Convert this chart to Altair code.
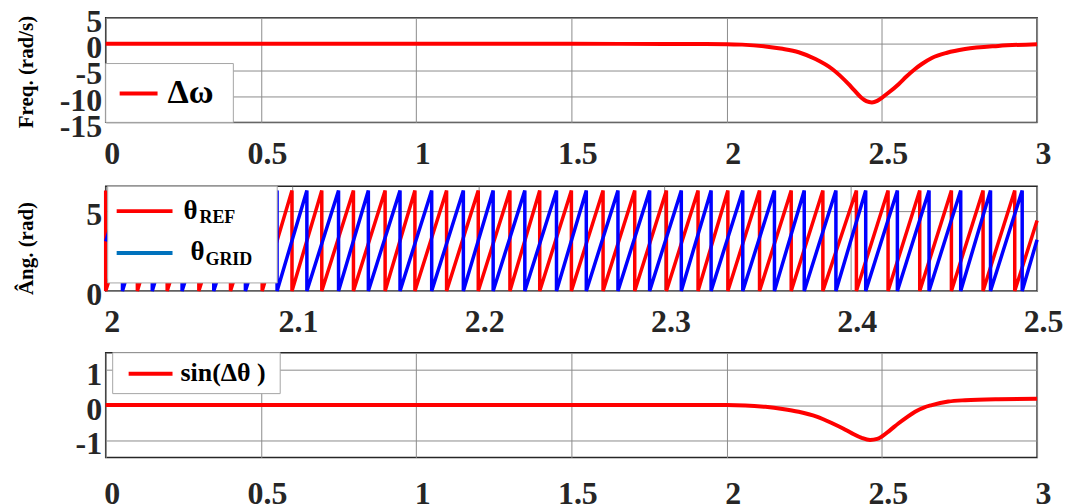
import altair as alt
import pandas as pd

# ---------------- Panel 1 : frequency deviation ----------------
t_freq = [0.0, 0.5, 1.0, 1.5, 1.8, 1.9, 2.0, 2.05, 2.125, 2.18, 2.232, 2.286, 2.34,
          2.393, 2.41, 2.436, 2.45, 2.468, 2.485, 2.5, 2.52, 2.554, 2.58, 2.607,
          2.63, 2.661, 2.71, 2.768, 2.875, 3.0]
d_omega = [0, 0, 0, 0, -0.02, -0.04, -0.06, -0.15, -0.5, -0.95, -1.6, -2.9, -4.8,
           -7.7, -8.8, -10.4, -10.95, -11.2, -10.9, -10.3, -9.4, -7.7, -6.2, -4.8,
           -3.8, -2.7, -1.7, -1.0, -0.4, -0.06]

# ---------------- Panel 2 : phase angles (wrap instants) ----------------
ang_peak = 6.28
red_wraps = [2.000, 2.017, 2.033, 2.050, 2.067, 2.084, 2.100, 2.116, 2.133, 2.150,
             2.166, 2.183, 2.200, 2.217, 2.233, 2.250, 2.267, 2.284, 2.301, 2.318,
             2.334, 2.351, 2.368, 2.385, 2.403, 2.420, 2.437, 2.454, 2.471, 2.488]
blue_wraps = [2.009, 2.025, 2.041, 2.058, 2.075, 2.092, 2.108, 2.125, 2.141, 2.158,
              2.175, 2.192, 2.208, 2.225, 2.242, 2.258, 2.275, 2.292, 2.309, 2.325,
              2.342, 2.359, 2.375, 2.392, 2.408, 2.425, 2.442, 2.459, 2.475, 2.492]
red_start, red_end = 6.28, 4.4
blue_start, blue_end = 3.1, 3.2
t_ang_start, t_ang_end = 2.0, 2.5

# ---------------- Panel 3 : sin(delta theta) ----------------
t_sin = [0.0, 1.0, 1.9, 2.0, 2.06, 2.125, 2.18, 2.232, 2.29, 2.34, 2.375, 2.404,
         2.435, 2.462, 2.485, 2.5, 2.525, 2.554, 2.58, 2.607, 2.635, 2.661, 2.714,
         2.768, 2.875, 3.0]
sin_dtheta = [0, 0, 0, 0, -0.01, -0.05, -0.11, -0.19, -0.33, -0.52, -0.67, -0.81,
              -0.94, -1.0, -0.97, -0.9, -0.73, -0.52, -0.35, -0.19, -0.07, 0.0, 0.1,
              0.14, 0.17, 0.18]

# tick values
x_ticks_main = [0, 0.5, 1, 1.5, 2, 2.5, 3]
x_ticks_zoom = [2.0, 2.1, 2.2, 2.3, 2.4, 2.5]
y_ticks_freq = [-15, -10, -5, 0, 5]
y_ticks_ang = [0, 5]
y_ticks_sin = [-1, 0, 1]

FONT = "Liberation Serif"
W, H = 934, 105
RED = "#FF0000"
BLUE = "#0000FF"


def saw_rows(start_val, wraps, end_val):
    rows = [(t_ang_start, start_val)]
    for w in wraps:
        rows.append((w, ang_peak))
        rows.append((w, 0.0))
    rows.append((t_ang_end, end_val))
    return pd.DataFrame({"t": [r[0] for r in rows], "v": [r[1] for r in rows],
                         "i": list(range(len(rows)))})


dummy = pd.DataFrame({"a": [0]})


def xaxis(vals, pad):
    return alt.Axis(values=vals, format="~g", title=None, labelFlush=False,
                    labelOverlap=False, labelPadding=pad, labelBaseline="alphabetic",
                    labelOffset=6)


def yaxis(vals, title=None, ty=52):
    kw = dict(values=vals, labelOverlap=False, labelPadding=4, labelBaseline="middle",
              labelOffset=4, labelFlush=False, labelExpr="datum.value + ''")
    if title:
        kw.update(title=title, titleX=-73, titleY=ty, titleAngle=270,
                  titleBaseline="alphabetic", titleAlign="center")
    else:
        kw.update(title=None)
    return alt.Axis(**kw)


def rect(x1, x2, y1, y2):
    return alt.Chart(dummy).mark_rect(fill="white", stroke="#a6a6a6", strokeWidth=1).encode(
        x=alt.value(x1), x2=alt.value(x2), y=alt.value(y1), y2=alt.value(y2))


def lline(x1, x2, y, color):
    return alt.Chart(dummy).mark_rule(color=color, strokeWidth=4).encode(
        x=alt.value(x1), x2=alt.value(x2), y=alt.value(y))


def txt(s, x, y, size):
    return alt.Chart(dummy).mark_text(text=s, align="left", baseline="alphabetic",
                                      font=FONT, fontWeight="bold", fontSize=size,
                                      color="black").encode(x=alt.value(x), y=alt.value(y))


# ---------- panel 1 ----------
df1 = pd.DataFrame({"t": t_freq, "v": d_omega})
p1_line = alt.Chart(df1).mark_line(color=RED, strokeWidth=4, interpolate="monotone").encode(
    x=alt.X("t:Q", scale=alt.Scale(domain=[0, 3], nice=False), axis=xaxis(x_ticks_main, 41)),
    y=alt.Y("v:Q", scale=alt.Scale(domain=[-15, 5], nice=False),
            axis=yaxis(y_ticks_freq, "Freq. (rad/s)", 54)))
p1 = alt.layer(p1_line, rect(0, 128, 46, 105), lline(14, 52, 76, RED),
               txt("Δω", 62, 86, 34)).properties(width=W, height=H)

# ---------- panel 2 ----------
dr = saw_rows(red_start, red_wraps, red_end)
db = saw_rows(blue_start, blue_wraps, blue_end)
xs2 = alt.X("t:Q", scale=alt.Scale(domain=[2.0, 2.5], nice=False), axis=xaxis(x_ticks_zoom, 41))
ys2 = alt.Y("v:Q", scale=alt.Scale(domain=[0, 6.55], nice=False),
            axis=yaxis(y_ticks_ang, "Âng. (rad)", 62))
p2_red = alt.Chart(dr).mark_line(color=RED, strokeWidth=3.5).encode(x=xs2, y=ys2, order="i:Q")
p2_blue = alt.Chart(db).mark_line(color=BLUE, strokeWidth=3.5).encode(x=xs2, y=ys2, order="i:Q")
p2 = alt.layer(p2_red, p2_blue, rect(2, 172, 0, 97),
               lline(11, 67, 25, RED), lline(11, 67, 67, "#0072BD"),
               txt("θ", 78, 33, 27), txt("REF", 94, 37, 18),
               txt("θ", 85, 74, 27), txt("GRID", 100, 79, 18)).properties(width=W, height=H)

# ---------- panel 3 ----------
df3 = pd.DataFrame({"t": t_sin, "v": sin_dtheta})
p3_line = alt.Chart(df3).mark_line(color=RED, strokeWidth=4, interpolate="monotone").encode(
    x=alt.X("t:Q", scale=alt.Scale(domain=[0, 3], nice=False), axis=xaxis(x_ticks_main, 46)),
    y=alt.Y("v:Q", scale=alt.Scale(domain=[-1.5, 1.5], nice=False), axis=yaxis(y_ticks_sin)))
p3 = alt.layer(p3_line, rect(7, 175, 0, 41), lline(23, 67, 21, RED),
               txt("sin(Δθ )", 75, 28, 26)).properties(width=W, height=H)

chart = alt.vconcat(p1, p2, p3, spacing=12).properties(
    padding={"left": 15, "top": 4, "right": 5, "bottom": 0},
    background="white"
).configure_view(stroke="#262626", strokeWidth=1.5).configure_axis(
    domain=False, ticks=False, grid=True, gridColor="#8c8c8c", gridWidth=1,
    labelFont=FONT, labelFontWeight="bold", labelFontSize=32, labelColor="#262626",
    titleFont=FONT, titleFontWeight="bold", titleFontSize=21, titleColor="black"
)

chart.save("out.html", embed_options={"renderer": "svg", "actions": False})
